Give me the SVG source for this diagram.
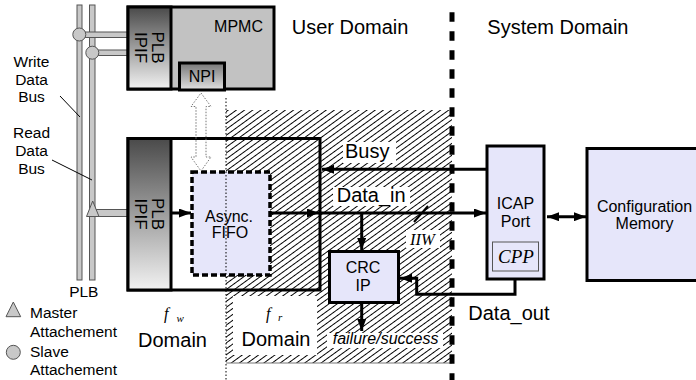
<svg xmlns="http://www.w3.org/2000/svg" width="696" height="380" viewBox="0 0 696 380">
<style>
.t{font-family:"Liberation Sans",Arial,sans-serif;fill:#000}
.s{font-size:15.5px}
.m{font-size:16px}
.l{font-size:20px}
.ser{font-family:"Liberation Serif","Times New Roman",serif;font-style:italic}
.box{stroke:#000;stroke-width:3}
.bus{fill:#c8c8c8;stroke:#555;stroke-width:1}
.conn{stroke:#000;stroke-width:3;fill:none}
.wbg{fill:#fff;stroke:none}
</style>
<defs>
<linearGradient id="gPLB" x1="0" y1="0" x2="0" y2="1">
<stop offset="0" stop-color="#4a4a4a"/><stop offset="1" stop-color="#f2f2f2"/>
</linearGradient>
<linearGradient id="gNPI" x1="0" y1="0" x2="0" y2="1">
<stop offset="0" stop-color="#777"/><stop offset="1" stop-color="#e2e2e2"/>
</linearGradient>
<pattern id="hatch" patternUnits="userSpaceOnUse" width="8" height="4.8" patternTransform="rotate(-36)">
<line x1="-1" y1="2.4" x2="9" y2="2.4" stroke="#000" stroke-width="1"/>
</pattern>
<marker id="ah" markerUnits="userSpaceOnUse" markerWidth="12" markerHeight="9" refX="12" refY="4.5" orient="auto-start-reverse">
<path d="M0,0 L12,4.5 L0,9 Z" fill="#000"/>
</marker>
</defs>

<!-- hatched f_r region -->
<g id="fr-region">
<rect x="226" y="110" width="226" height="253" fill="url(#hatch)"/>
<line x1="226" y1="363" x2="452" y2="363" stroke="#777" stroke-width="1"/>
<rect class="wbg" x="233" y="296" width="84" height="59"/>
<rect class="wbg" x="343" y="142" width="53" height="21"/>
<rect class="wbg" x="333" y="187" width="77" height="19"/>
<rect class="wbg" x="406" y="230" width="34" height="18"/>
<rect class="wbg" x="327" y="333" width="116" height="15"/>
</g>

<!-- PLB buses -->
<g id="plb-bus">
<rect class="bus" x="77" y="5" width="5" height="275"/>
<rect class="bus" x="89.5" y="5" width="5.5" height="275"/>
<rect class="bus" x="79" y="32" width="49" height="5.5"/>
<rect class="bus" x="92" y="50" width="36" height="5.5"/>
<rect class="bus" x="93" y="209.5" width="35" height="7"/>
<circle class="bus" cx="79.3" cy="34.5" r="6.5" stroke="#444"/>
<circle class="bus" cx="92.3" cy="52.7" r="6.5" stroke="#444"/>
<polygon class="bus" points="92.7,201 86.5,216.5 99,216.5" stroke="#444"/>
<text class="t s" x="83.8" y="296.7" text-anchor="middle">PLB</text>
</g>

<g id="bus-labels">
<text class="t s" text-anchor="middle"><tspan x="31.5" y="66.7">Write</tspan><tspan x="31.5" y="85">Data</tspan><tspan x="31.5" y="101.7">Bus</tspan></text>
<text class="t s" text-anchor="middle"><tspan x="31.5" y="138.3">Read</tspan><tspan x="31.5" y="156">Data</tspan><tspan x="31.5" y="174">Bus</tspan></text>
<line x1="60" y1="96" x2="80" y2="117" stroke="#000" stroke-width="1"/>
<line x1="52" y1="160" x2="92" y2="180" stroke="#000" stroke-width="1"/>
</g>

<g id="legend">
<polygon class="bus" points="13.3,302 6,316.7 20.7,316.7" stroke="#444"/>
<text class="t s" x="30" y="318.3">Master</text>
<text class="t s" x="30" y="336.7">Attachement</text>
<circle class="bus" cx="13.3" cy="352.3" r="7" stroke="#444"/>
<text class="t s" x="30" y="356.7">Slave</text>
<text class="t s" x="30" y="375">Attachement</text>
</g>

<!-- MPMC -->
<g id="mpmc">
<rect class="box" x="128" y="7" width="146" height="82" fill="#c2c2c2"/>
<rect class="box" x="128" y="7" width="43" height="82" fill="url(#gPLB)"/>
<text class="t" font-size="17" transform="translate(152,47.5) rotate(90)" text-anchor="middle">PLB</text>
<text class="t" font-size="17" transform="translate(135,47.5) rotate(90)" text-anchor="middle">IPIF</text>
<text class="t m" x="263" y="32.3" text-anchor="end">MPMC</text>
</g>
<g id="npi">
<rect class="box" x="179.5" y="63" width="45" height="27" fill="url(#gNPI)"/>
<text class="t m" x="202" y="81.7" text-anchor="middle">NPI</text>
</g>

<!-- lower PLB IPIF block -->
<g id="plb-ipif">
<rect class="box" x="128" y="138.5" width="192" height="151.5" fill="none"/>
<rect class="box" x="128" y="138.5" width="43" height="151.5" fill="url(#gPLB)"/>
<text class="t" font-size="17" transform="translate(152,214) rotate(90)" text-anchor="middle">PLB</text>
<text class="t" font-size="17" transform="translate(135,214) rotate(90)" text-anchor="middle">IPIF</text>
</g>

<g id="fifo">
<rect x="192" y="172" width="78" height="103" fill="#e6e6fa" stroke="#000" stroke-width="3.5" stroke-dasharray="6 3"/>
<text class="t m" x="229" y="221.7" text-anchor="middle">Async.</text>
<text class="t m" x="230" y="238.3" text-anchor="middle">FIFO</text>
</g>

<g id="crc">
<rect class="box" x="329.5" y="251.5" width="69" height="51" fill="#e6e6fa"/>
<text class="t m" x="363" y="273.3" text-anchor="middle">CRC</text>
<text class="t m" x="363" y="291" text-anchor="middle">IP</text>
</g>

<g id="icap">
<rect class="box" x="487" y="146" width="57" height="133" fill="#e6e6fa"/>
<text class="t m" x="515.5" y="209.3" text-anchor="middle">ICAP</text>
<text class="t m" x="515.5" y="226.7" text-anchor="middle">Port</text>
<rect x="492.5" y="242" width="46" height="29" fill="none" stroke="#555" stroke-width="1"/>
<text class="t ser" font-size="19" x="516" y="262.7" text-anchor="middle">CPP</text>
</g>

<g id="config-memory">
<rect class="box" x="587" y="148.5" width="120" height="132" fill="#e6e6fa"/>
<text class="t m" x="644.5" y="211.7" text-anchor="middle">Configuration</text>
<text class="t m" x="644.5" y="229.3" text-anchor="middle">Memory</text>
</g>

<!-- connectors -->
<g id="connectors">
<path d="M201,93 L211,106.5 L206,106.5 L206,157 L211,157 L201,171 L191,157 L196,157 L196,106.5 L191,106.5 Z" fill="none" stroke="#777" stroke-width="1" stroke-dasharray="1.5 1.5"/>
<line class="conn" x1="171" y1="213" x2="191" y2="213" marker-end="url(#ah)"/>
<line class="conn" x1="270" y1="213" x2="319" y2="213" marker-end="url(#ah)"/>
<line class="conn" x1="319" y1="213" x2="486" y2="213" marker-end="url(#ah)"/>
<line class="conn" x1="486" y1="169.3" x2="322" y2="169.3" marker-end="url(#ah)"/>
<line class="conn" x1="361.7" y1="213" x2="361.7" y2="250" marker-end="url(#ah)"/>
<line class="conn" x1="361.7" y1="303" x2="361.7" y2="331" marker-end="url(#ah)"/>
<path class="conn" d="M515,279 V294.3 H416.7 V278.3 H400" marker-end="url(#ah)"/>
<line class="conn" x1="547" y1="216.7" x2="586" y2="216.7" marker-start="url(#ah)" marker-end="url(#ah)"/>
<line x1="414" y1="222" x2="428" y2="206" stroke="#000" stroke-width="2"/>
</g>

<!-- domain separators -->
<g id="separators">
<line x1="226" y1="98" x2="226" y2="380" stroke="#000" stroke-width="1" stroke-dasharray="1.5 2"/>
<line x1="452" y1="12.3" x2="452" y2="380" stroke="#000" stroke-width="5" stroke-dasharray="9.5 9.5"/>
</g>

<g id="labels">
<text class="t l" x="291.7" y="34.3">User Domain</text>
<text class="t l" x="487.3" y="34.3">System Domain</text>
<text class="t l" x="345" y="158.3">Busy</text>
<text class="t l" x="336.7" y="201.7">Data_in</text>
<text class="t l" x="468.3" y="320">Data_out</text>
<text class="t ser" font-size="16.5" x="410" y="245">IIW</text>
<text class="t m" font-style="italic" x="332.7" y="344">failure/success</text>
<text class="t ser" font-size="16" x="164" y="318.5">f</text>
<text class="t ser" font-size="11" x="176.5" y="321.7">w</text>
<text class="t l" x="172.5" y="346.7" text-anchor="middle">Domain</text>
<text class="t ser" font-size="16" x="266" y="319">f</text>
<text class="t ser" font-size="11" x="278" y="321">r</text>
<text class="t l" x="276" y="346" text-anchor="middle">Domain</text>
</g>
</svg>
